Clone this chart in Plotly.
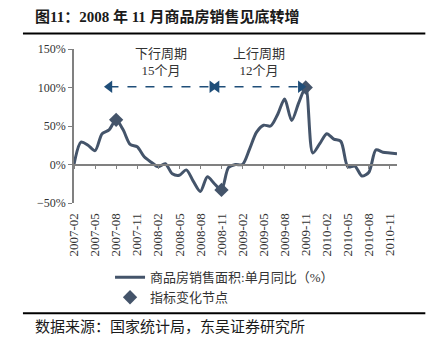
import plotly.graph_objects as go

# ---- data ----
months = [f"{y}-{m:02d}" for y in (2007, 2008, 2009, 2010) for m in range(1, 13)][1:]  # 2007-02 .. 2010-12
yoy = [0, 29, 25, 18, 40, 45, 58, 45, 26, 23, 10, 3,
       -3, 1, -12, -14, -7, -22, -35, -16, -25, -33, -4, 0,
       0, 20, 42, 51, 50, 65, 85, 57, 80, 100, 15, 27,
       40, 33, 30, -3, -2, -15, -10, 19, 16, 15, 14]
node_months = ["2007-08", "2008-11", "2009-11"]
node_values = [58, -33, 100]
cycle_labels = ["下行周期<br>15个月", "上行周期<br>12个月"]
cycle_start = [5.05, 20.3]
cycle_end = [19.7, 32.3]
cycle_level = 101
tick_labels = months[::3]

W, H = 436, 348
L, R, T, B = 74, 39.3, 49, 145.3
PW, PH = W - L - R, H - T - B


def px(xp):
    return (xp - L) / PW


def py(yp):
    return 1 - (yp - T) / PH


idx = list(range(len(months)))
node_idx = [months.index(m) for m in node_months]

line_c = "#44546A"
arrow_c = "#1F4E79"
axis_c = "#808080"
serif = "Liberation Serif, Noto Sans CJK SC, serif"

fig = go.Figure()
fig.add_trace(go.Scatter(x=idx, y=yoy, mode="lines", line=dict(color=line_c, width=3, shape="spline", smoothing=0.8),
                         name="商品房销售面积:单月同比（%）"))
fig.add_trace(go.Scatter(x=node_idx, y=node_values, mode="markers",
                         marker=dict(symbol="diamond", size=11, color=line_c), name="指标变化节点"))
# dummy trace for the zero-level axis
fig.add_trace(go.Scatter(x=[0], y=[0], xaxis="x2", mode="markers", marker=dict(opacity=0),
                         showlegend=False, hoverinfo="skip"))

for s, e, lab in zip(cycle_start, cycle_end, cycle_labels):
    fig.add_trace(go.Scatter(x=[s, e], y=[cycle_level, cycle_level], mode="lines+markers",
                             line=dict(color=arrow_c, width=1.5, dash="dash"),
                             marker=dict(symbol=["triangle-left", "triangle-right"], size=11, color=arrow_c),
                             showlegend=False, hoverinfo="skip"))
    fig.add_annotation(x=(s + e) / 2, y=cycle_level, yshift=25, text=lab, showarrow=False,
                       font=dict(family=serif, size=13, color="#333333"), yanchor="middle")

fig.update_layout(
    width=W, height=H, margin=dict(l=L, r=R, t=T, b=B),
    paper_bgcolor="white", plot_bgcolor="white",
    font=dict(family=serif, size=12, color="#333333"),
    xaxis=dict(range=[0, len(months) - 1], tickvals=idx[::3], ticktext=tick_labels, tickangle=-90,
               showgrid=False, zeroline=False, showline=False, ticks="outside", ticklen=4,
               tickcolor="rgba(0,0,0,0)",
               tickfont=dict(family=serif, size=13, color="#333333")),
    xaxis2=dict(overlaying="x", matches="x", anchor="free", position=0.25, tickvals=idx[::3],
                showticklabels=False, showgrid=False, zeroline=False, showline=True, linecolor=axis_c,
                linewidth=1.5, ticks="outside", ticklen=4, tickcolor=axis_c),
    yaxis=dict(range=[-50, 150], tickvals=[-50, 0, 50, 100, 150], ticktext=["−50%", "0%", "50%", "100%", "150%"],
               showgrid=False, zeroline=False, showline=True, linecolor=axis_c, linewidth=1.5,
               ticks="outside", ticklen=4, tickcolor=axis_c, tickfont=dict(family=serif, size=12, color="#333333")),
    legend=dict(orientation="v", x=px(110), y=py(262), xanchor="left", yanchor="top",
                font=dict(family=serif, size=13, color="#333333"), bgcolor="rgba(0,0,0,0)",
                tracegroupgap=0, itemwidth=30),
    showlegend=True,
)

fig.add_annotation(xref="paper", yref="paper", x=px(33), y=py(17), xanchor="left", yanchor="middle",
                   text="<b>图11：2008 年 11 月商品房销售见底转增</b>", showarrow=False,
                   font=dict(family=serif, size=15, color="#1a1a1a"))
fig.add_annotation(xref="paper", yref="paper", x=px(33), y=py(326), xanchor="left", yanchor="middle",
                   text="数据来源：国家统计局，东吴证券研究所", showarrow=False,
                   font=dict(family=serif, size=15, color="#1a1a1a"))
for yl in (33.5, 312.7):
    fig.add_shape(type="line", xref="paper", yref="paper", x0=px(23), x1=px(425), y0=py(yl), y1=py(yl),
                  line=dict(color="black", width=2))

fig.write_html("out.html")
